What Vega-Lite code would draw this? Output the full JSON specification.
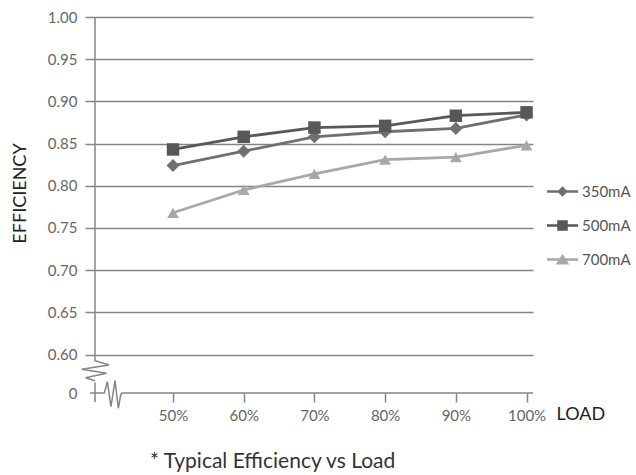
{
  "$schema": "https://vega.github.io/schema/vega-lite/v6.json",
  "width": 438,
  "height": 376,
  "autosize": {"type": "none"},
  "padding": {"left": 95, "top": 17, "right": 103, "bottom": 82},
  "background": "white",
  "config": {
    "view": {"stroke": null},
    "font": "Lato"
  },
  "title": {
    "text": "* Typical Efficiency vs Load",
    "orient": "bottom",
    "anchor": "start",
    "dx": 139,
    "offset": 28,
    "fontSize": 21,
    "fontWeight": "normal",
    "color": "#333333",
    "font": "Lato"
  },
  "datasets": {
    "main": [
      {"series": "350mA", "load": 50, "efficiency": 0.824},
      {"series": "350mA", "load": 60, "efficiency": 0.841},
      {"series": "350mA", "load": 70, "efficiency": 0.858},
      {"series": "350mA", "load": 80, "efficiency": 0.864},
      {"series": "350mA", "load": 90, "efficiency": 0.868},
      {"series": "350mA", "load": 100, "efficiency": 0.884},
      {"series": "500mA", "load": 50, "efficiency": 0.843},
      {"series": "500mA", "load": 60, "efficiency": 0.858},
      {"series": "500mA", "load": 70, "efficiency": 0.869},
      {"series": "500mA", "load": 80, "efficiency": 0.871},
      {"series": "500mA", "load": 90, "efficiency": 0.883},
      {"series": "500mA", "load": 100, "efficiency": 0.887},
      {"series": "700mA", "load": 50, "efficiency": 0.768},
      {"series": "700mA", "load": 60, "efficiency": 0.795},
      {"series": "700mA", "load": 70, "efficiency": 0.814},
      {"series": "700mA", "load": 80, "efficiency": 0.831},
      {"series": "700mA", "load": 90, "efficiency": 0.834},
      {"series": "700mA", "load": 100, "efficiency": 0.848}
    ],
    "frame": [
      {"part": "yaxis", "i": 0, "load": 38.97, "efficiency": 1.0},
      {"part": "yaxis", "i": 1, "load": 38.97, "efficiency": 0.5927},
      {"part": "yaxis", "i": 2, "load": 40.95, "efficiency": 0.5876},
      {"part": "yaxis", "i": 3, "load": 37.08, "efficiency": 0.5825},
      {"part": "yaxis", "i": 4, "load": 40.6, "efficiency": 0.5777},
      {"part": "yaxis", "i": 5, "load": 37.62, "efficiency": 0.5725},
      {"part": "yaxis", "i": 6, "load": 38.97, "efficiency": 0.569},
      {"part": "stub", "i": 0, "load": 38.97, "efficiency": 0.5668},
      {"part": "stub", "i": 1, "load": 38.97, "efficiency": 0.5434},
      {"part": "xaxis", "i": 0, "load": 38.26, "efficiency": 0.5544},
      {"part": "xaxis", "i": 1, "load": 40.29, "efficiency": 0.5544},
      {"part": "xaxis", "i": 2, "load": 40.71, "efficiency": 0.5678},
      {"part": "xaxis", "i": 3, "load": 41.23, "efficiency": 0.5382},
      {"part": "xaxis", "i": 4, "load": 41.8, "efficiency": 0.569},
      {"part": "xaxis", "i": 5, "load": 42.27, "efficiency": 0.5363},
      {"part": "xaxis", "i": 6, "load": 42.6, "efficiency": 0.552},
      {"part": "xaxis", "i": 7, "load": 42.79, "efficiency": 0.5544},
      {"part": "xaxis", "i": 8, "load": 100.91, "efficiency": 0.5544}
    ]
  },
  "encoding": {
    "x": {
      "field": "load",
      "type": "quantitative",
      "scale": {"domain": [38.97, 100.91], "nice": false, "zero": false},
      "axis": {
        "values": [50, 60, 70, 80, 90, 100],
        "labelExpr": "datum.value + '%'",
        "domain": false,
        "grid": false,
        "tickSize": 9,
        "tickColor": "#858585",
        "tickWidth": 1.5,
        "labelFontSize": 15,
        "labelColor": "#666666",
        "labelPadding": 6,
        "labelFont": "Lato",
        "title": "LOAD",
        "titleFont": "Lato",
        "titleFontSize": 18,
        "titleFontWeight": "normal",
        "titleColor": "#222222",
        "titleAlign": "left",
        "titleBaseline": "middle",
        "titleAnchor": null,
        "titleX": 461,
        "titleY": 21
      }
    },
    "y": {
      "field": "efficiency",
      "type": "quantitative",
      "scale": {"domain": [0.5544, 1.0], "nice": false, "zero": false},
      "axis": {
        "values": [0.5544, 0.6, 0.65, 0.7, 0.75, 0.8, 0.85, 0.9, 0.95, 1.0],
        "labelExpr": "datum.value < 0.58 ? '0' : format(datum.value, '.2f')",
        "domain": false,
        "grid": true,
        "gridColor": "#858585",
        "gridWidth": 1.5,
        "gridOpacity": {"condition": {"test": "datum.value < 0.58", "value": 0}, "value": 1},
        "tickOpacity": {"condition": {"test": "datum.value < 0.58", "value": 0}, "value": 1},
        "tickSize": 10,
        "tickColor": "#858585",
        "tickWidth": 1.5,
        "labelFontSize": 15,
        "labelColor": "#666666",
        "labelPadding": 8,
        "labelFont": "Lato",
        "title": "EFFICIENCY",
        "titleFont": "Lato",
        "titleFontSize": 18,
        "titleFontWeight": "normal",
        "titleColor": "#222222",
        "titleAngle": -90,
        "titleAlign": "center",
        "titleBaseline": "middle",
        "titleAnchor": null,
        "titleX": -75,
        "titleY": 176
      }
    }
  },
  "layer": [
    {
      "data": {"name": "frame"},
      "mark": {"type": "line", "color": "#858585", "strokeWidth": 1.5, "clip": false},
      "encoding": {
        "detail": {"field": "part", "type": "nominal"},
        "order": {"field": "i", "type": "quantitative"}
      }
    },
    {
      "data": {"name": "main"},
      "mark": {"type": "line", "strokeWidth": 2.8},
      "encoding": {
        "color": {
          "field": "series",
          "type": "nominal",
          "scale": {"domain": ["350mA", "500mA", "700mA"], "range": ["#707072", "#58585a", "#a8a8aa"]},
          "legend": null
        }
      }
    },
    {
      "data": {"name": "main"},
      "mark": {"type": "point", "filled": true, "opacity": 1, "strokeWidth": 0},
      "encoding": {
        "color": {
          "field": "series",
          "type": "nominal",
          "scale": {"domain": ["350mA", "500mA", "700mA"], "range": ["#707072", "#58585a", "#a8a8aa"]},
          "legend": null
        },
        "shape": {
          "field": "series",
          "type": "nominal",
          "scale": {"domain": ["350mA", "500mA", "700mA"], "range": ["diamond", "square", "triangle-up"]},
          "legend": null
        },
        "size": {
          "field": "series",
          "type": "nominal",
          "scale": {"domain": ["350mA", "500mA", "700mA"], "range": [170, 140, 200]},
          "legend": null
        }
      }
    },
    {
      "data": {"name": "main"},
      "transform": [{"filter": {"field": "series", "equal": "none"}}],
      "mark": {"type": "point", "filled": true, "opacity": 1},
      "encoding": {
        "color": {
          "field": "series",
          "type": "nominal",
          "scale": {"domain": ["350mA", "500mA", "700mA"], "range": ["#707072", "#58585a", "#a8a8aa"]},
          "legend": {
            "title": null,
            "orient": "none",
            "legendX": 452,
            "legendY": 159,
            "symbolSize": 961,
            "symbolStrokeWidth": 0,
            "labelOffset": 4,
            "rowPadding": 10,
            "padding": 0,
            "labelFontSize": 15,
            "labelFont": "Lato",
            "labelColor": "#555555"
          }
        },
        "shape": {
          "field": "series",
          "type": "nominal",
          "scale": {
            "domain": ["350mA", "500mA", "700mA"],
            "range": [
              "M-1,-0.08H1V0.08H-1Z M-0.34,0L0,-0.34L0.34,0L0,0.34Z",
              "M-1,-0.08H1V0.08H-1Z M-0.34,-0.34H0.34V0.34H-0.34Z",
              "M-1,-0.08H1V0.08H-1Z M-0.44,0.32L0,-0.36L0.44,0.32Z"
            ]
          },
          "legend": {
            "title": null,
            "orient": "none",
            "legendX": 452,
            "legendY": 159,
            "symbolSize": 961,
            "symbolStrokeWidth": 0,
            "labelOffset": 4,
            "rowPadding": 10,
            "padding": 0,
            "labelFontSize": 15,
            "labelFont": "Lato",
            "labelColor": "#555555"
          }
        }
      }
    }
  ],
  "resolve": {"scale": {"color": "independent", "shape": "independent", "size": "independent"}}
}
